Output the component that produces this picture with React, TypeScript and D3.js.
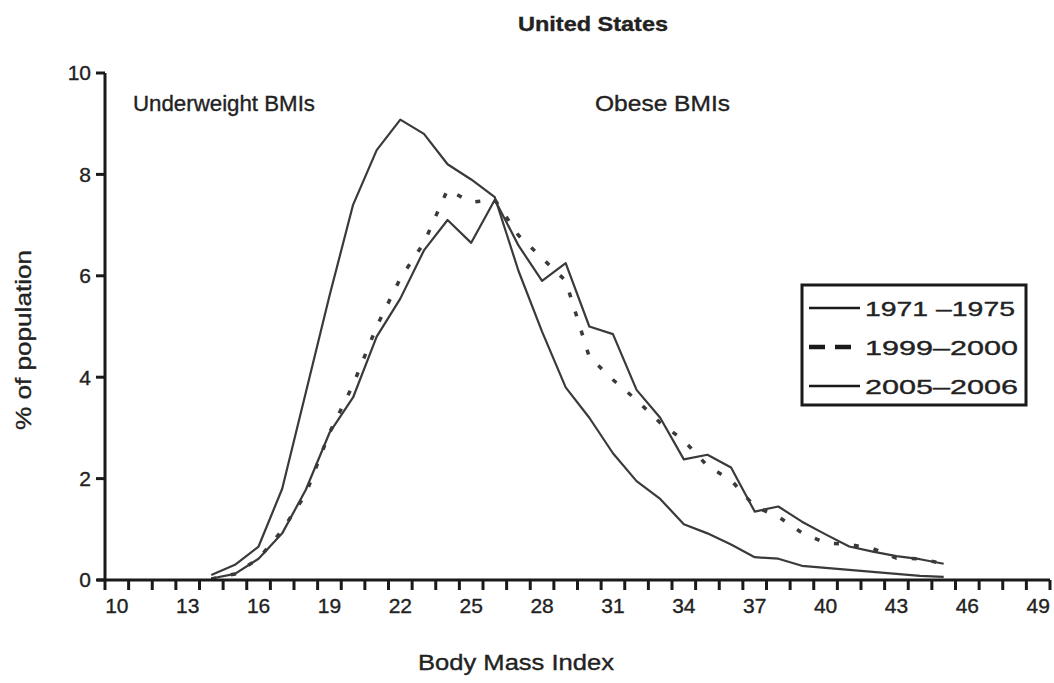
import React from "react";
import * as d3 from "d3";

// BMI categories on the x axis (10..49), one label every 3
const bmiCategories = d3.range(10, 50);
const bmiTickLabels = [10, 13, 16, 19, 22, 25, 28, 31, 34, 37, 40, 43, 46, 49];
const yTicks = [0, 2, 4, 6, 8, 10];

// series are plotted from BMI 14 to 45
const seriesBmi = d3.range(14, 46);
const y1971 = [0.1, 0.3, 0.66, 1.8, 3.7, 5.6, 7.4, 8.48, 9.08, 8.8, 8.2, 7.9, 7.55, 6.1, 4.9, 3.8, 3.2, 2.5, 1.95, 1.6, 1.1, 0.92, 0.7, 0.45, 0.42, 0.28, 0.24, 0.2, 0.16, 0.12, 0.08, 0.06];
const y1999 = [0.02, 0.12, 0.42, 0.98, 1.7, 2.9, 3.85, 5.0, 5.95, 6.65, 7.7, 7.45, 7.5, 6.8, 6.35, 5.9, 4.4, 3.95, 3.55, 3.1, 2.75, 2.25, 1.97, 1.45, 1.25, 0.93, 0.73, 0.7, 0.62, 0.43, 0.42, 0.32];
const y2005 = [0.03, 0.12, 0.42, 0.92, 1.78, 2.9, 3.6, 4.8, 5.55, 6.5, 7.1, 6.65, 7.5, 6.6, 5.9, 6.25, 5.0, 4.85, 3.75, 3.2, 2.38, 2.47, 2.22, 1.35, 1.45, 1.15, 0.9, 0.66, 0.56, 0.47, 0.41, 0.32];

const seriesNames = ["1971 \u20131975", "1999\u20132000", "2005\u20132006"];

const font = "'Liberation Sans', Arial, Helvetica, sans-serif";
const ink = "#1a1a1a";
const lineInk = "#3a3a3a";
// scanned text looks a bit heavier than plain Arial
const txt = { fontFamily: font, fill: "#222", stroke: "#222", strokeWidth: 0.35 };

export default function App() {
  const width = 1054, height = 683;
  const left = 105, right = 1050, top = 73, bottom = 580;

  const x = d3.scaleBand<number>().domain(bmiCategories).range([left, right]).padding(0);
  const bw = x.bandwidth();
  const y = d3.scaleLinear().domain([0, 10]).range([bottom, top]);

  const line = d3
    .line<number>()
    .x((d, i) => (x(seriesBmi[i]) as number) + bw / 2)
    .y((d) => y(d));

  const series = [
    { name: seriesNames[0], values: y1971, dash: null },
    { name: seriesNames[1], values: y1999, dash: "5,15" },
    { name: seriesNames[2], values: y2005, dash: null },
  ];

  const boundaries = d3.range(0, bmiCategories.length + 1).map((k) => left + k * bw);

  return (
    <svg width={width} height={height} style={{ position: "absolute", left: 0, top: 0, background: "#fff" }}>
      <rect width={width} height={height} fill="#fff" />
      <text x={593} y={31} textAnchor="middle" {...txt} fontWeight="bold" fontSize={21} textLength={150} lengthAdjust="spacingAndGlyphs">
        United States
      </text>

      {/* plot lines */}
      {series.map((s) => (
        <path
          key={s.name}
          d={line(s.values) || ""}
          fill="none"
          stroke={lineInk}
          strokeWidth={s.dash ? 3.5 : 2.2}
          strokeDasharray={s.dash || undefined}
          strokeLinejoin="round"
        />
      ))}

      {/* y axis */}
      <line x1={left} x2={left} y1={top} y2={bottom} stroke={ink} strokeWidth={3} />
      {yTicks.map((t) => (
        <g key={t}>
          <line x1={left - 9} x2={left} y1={y(t)} y2={y(t)} stroke={ink} strokeWidth={3} />
          <text x={left - 14} y={y(t)} dy="0.35em" textAnchor="end" {...txt} fontSize={21}>
            {t}
          </text>
        </g>
      ))}

      {/* x axis */}
      <line x1={97} x2={right} y1={bottom} y2={bottom} stroke={ink} strokeWidth={3} />
      {boundaries.map((bx, i) => (
        <line key={i} x1={bx} x2={bx} y1={bottom} y2={bottom + 10} stroke={ink} strokeWidth={3} />
      ))}
      {bmiTickLabels.map((b) => (
        <text key={b} x={(x(b) as number) + bw / 2} y={613} textAnchor="middle" {...txt} fontSize={21}>
          {b}
        </text>
      ))}

      {/* axis titles */}
      <text x={516} y={670} textAnchor="middle" {...txt} fontSize={22} textLength={196} lengthAdjust="spacingAndGlyphs">
        Body Mass Index
      </text>
      <text transform="translate(31,340) rotate(-90)" textAnchor="middle" {...txt} fontSize={22} textLength={180} lengthAdjust="spacingAndGlyphs">
        % of population
      </text>

      {/* annotations */}
      <text x={133} y={111} {...txt} fontSize={22} textLength={182} lengthAdjust="spacingAndGlyphs">
        Underweight BMIs
      </text>
      <text x={595} y={111} {...txt} fontSize={22} textLength={135} lengthAdjust="spacingAndGlyphs">
        Obese BMIs
      </text>

      {/* legend */}
      <rect x={802} y={285} width={224} height={120} fill="#fff" stroke={ink} strokeWidth={3} />
      {series.map((s, i) => {
        const ly = 308 + i * 39;
        return (
          <g key={s.name}>
            <line
              x1={809}
              x2={860}
              y1={ly}
              y2={ly}
              stroke={ink}
              strokeWidth={s.dash ? 4.5 : 2.5}
              strokeDasharray={s.dash ? "16,10" : undefined}
            />
            <text x={865} y={ly} dy="0.36em" {...txt} fontSize={21} textLength={i === 0 ? 150 : 153} lengthAdjust="spacingAndGlyphs">
              {s.name}
            </text>
          </g>
        );
      })}
    </svg>
  );
}
